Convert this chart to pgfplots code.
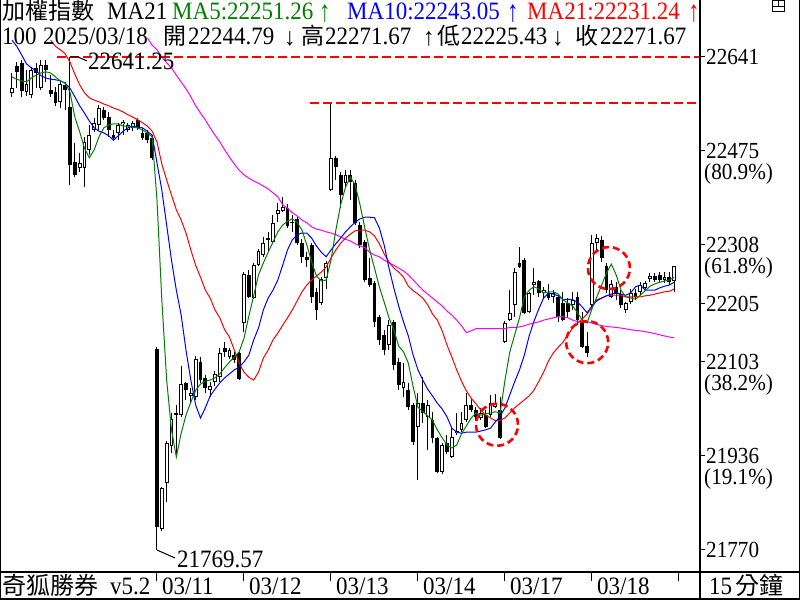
\documentclass[border=0pt]{standalone}
\usepackage{pgfplots}
\pgfplotsset{compat=1.18}
\usepackage{pgfplotstable}
\usepackage{graphicx}
\usepackage{fontspec}
\setmainfont{Liberation Serif}[FakeStretch=0.92]
\newfontfamily\cjk{Noto Sans CJK TC}
\definecolor{mgreen}{RGB}{0,128,0}
\definecolor{mblue}{RGB}{0,0,255}
\definecolor{mred}{RGB}{255,0,0}
\definecolor{mmag}{RGB}{255,0,255}
\newcommand{\upar}{\raisebox{-2bp}{\scalebox{1}[1.2]{↑}}}
\newcommand{\uparb}{\raisebox{-1bp}{↑}}
\newcommand{\dnar}{\raisebox{-1bp}{↓}}

\pgfplotstableread{
i O H L C
-30 22578 22613 22571 22586
-27 22579 22618 22572 22593
-26 22574 22624 22569 22618
-24 22586 22636 22583 22627
-20 22562 22601 22551 22593
-16 22445 22472 22438 22454
-15 22445 22500 22411 22491
-14 22477 22521 22468 22503
-13 22512 22533 22509 22525
-12 22521 22556 22512 22551
-8 22507 22525 22494 22521
-7 22523 22530 22503 22526
-6 22512 22525 22509 22521
-5 22516 22528 22510 22525
1 21807 21881 21803 21879
2 21888 21962 21854 21959
3 21953 22012 21941 22001
5 22008 22095 22005 22063
7 22042 22056 22031 22047
8 22040 22113 22035 22107
11 22052 22067 22040 22060
12 22067 22086 22060 22081
13 22075 22127 22067 22118
15 22111 22127 22107 22123
18 22171 22261 22155 22258
20 22215 22277 22213 22273
21 22273 22302 22272 22298
22 22291 22323 22288 22312
24 22314 22362 22312 22348
25 22364 22383 22349 22371
26 22369 22394 22367 22376
34 22206 22252 22203 22249
35 22250 22281 22231 22277
36 22406 22560 22404 22463
39 22418 22441 22410 22433
48 22132 22176 22123 22167
51 22056 22100 22040 22067
54 21987 22047 21893 22029
56 22005 22035 21946 22026
59 21907 21959 21904 21955
61 21934 21987 21932 21969
62 21976 22012 21973 21980
63 21982 22014 21978 21994
64 21999 22047 21996 22026
67 22003 22021 21999 22012
69 22008 22044 22005 22029
70 22022 22045 22021 22029
72 22137 22174 22135 22171
73 22176 22229 22174 22189
74 22203 22268 22182 22261
77 22190 22226 22189 22224
78 22238 22268 22220 22243
80 22224 22235 22215 22229
82 22217 22229 22206 22224
86 22203 22226 22194 22212
90 22203 22327 22197 22312
91 22312 22328 22300 22321
94 22217 22247 22215 22240
97 22194 22208 22189 22206
98 22208 22231 22205 22224
100 22226 22243 22220 22238
101 22233 22245 22229 22242
102 22249 22259 22243 22254
105 22247 22261 22242 22252
107 22244.79 22271.67 22225.43 22271.67
}\up

\pgfplotstableread{
i O H L C
-29 22625 22632 22586 22615
-28 22631 22636 22571 22581
-25 22622 22631 22586 22613
-23 22627 22636 22597 22618
-22 22583 22609 22571 22576
-21 22579 22588 22555 22560
-19 22592 22597 22548 22583
-18 22553 22641.25 22415 22450
-17 22456 22489 22429 22433
-11 22548 22553 22530 22533
-10 22535 22544 22500 22512
-9 22503 22512 22494 22498
-4 22530 22533 22512 22516
-3 22507 22516 22494 22498
-2 22507 22512 22489 22494
-1 22498 22503 22459 22463
0 22125 22129 21769.57 21810
4 22012 22026 21934 22008
6 22065 22067 22035 22052
9 22102 22111 22065 22070
10 22074 22079 22047 22056
14 22127 22137 22111 22120
16 22114 22120 22100 22105
17 22118 22120 22070 22072
19 22256 22265 22215 22217
23 22321 22332 22296 22318
27 22374 22381 22339 22342
28 22349 22362 22332 22348
29 22355 22358 22309 22312
30 22312 22319 22277 22288
31 22288 22296 22270 22282
32 22309 22312 22206 22217
33 22226 22233 22176 22194
37 22463 22466 22424 22447
38 22433 22438 22374 22397
40 22433 22441 22388 22420
41 22418 22424 22344 22348
42 22344 22349 22304 22309
43 22314 22318 22243 22247
44 22250 22286 22235 22238
45 22242 22245 22164 22173
46 22182 22185 22132 22141
47 22150 22159 22114 22123
49 22173 22176 22088 22097
50 22102 22109 22052 22061
52 22052 22065 22017 22022
53 22026 22029 21955 21961
55 22029 22075 21994 22012
57 21999 22014 21959 21968
58 21968 21969 21906 21907
60 21959 21973 21939 21943
65 22026 22038 22014 22017
66 22017 22022 21999 22005
68 22008 22017 21985 21987
71 22017 22040 21966 21968
75 22277 22305 22268 22270
76 22282 22286 22187 22189
79 22245 22247 22217 22224
81 22224 22240 22212 22215
83 22217 22220 22173 22182
84 22206 22226 22174 22176
85 22206 22215 22180 22190
87 22217 22226 22167 22176
88 22173 22190 22127 22129
89 22130 22155 22111 22118
92 22318 22325 22279 22286
93 22272 22277 22224 22229
95 22235 22243 22212 22222
96 22222 22229 22197 22203
99 22224 22231 22212 22217
103 22254 22259 22243 22247
104 22256 22261 22243 22247
106 22252 22261 22238 22243
}\down

\pgfplotstableread{
i v
-30 22606
-29 22602
-28 22599
-27 22597
-26 22604
-25 22609
-24 22613
-23 22615
-22 22613
-21 22606
-20 22599
-19 22595
-18 22579
-17 22535
-16 22509
-15 22480
-14 22463
-13 22477
-12 22500
-11 22516
-10 22521
-9 22523
-8 22523
-7 22519
-6 22519
-5 22517
-4 22516
-3 22512
-2 22507
-1 22500
0 22388
1 22212
2 22070
3 21982
4 21934
5 21976
6 22008
7 22031
8 22052
9 22063
10 22068
11 22070
12 22074
13 22081
14 22092
15 22102
16 22111
17 22120
18 22144
19 22183
20 22219
21 22256
22 22277
23 22296
24 22314
25 22332
26 22344
27 22351
28 22355
29 22349
30 22335
31 22309
32 22279
33 22254
34 22245
35 22247
36 22282
37 22335
38 22380
39 22411
40 22429
41 22415
42 22380
43 22339
44 22300
45 22268
46 22235
47 22208
48 22180
49 22159
50 22130
51 22120
52 22100
53 22058
54 22022
55 22014
56 22007
57 21999
58 21982
59 21968
60 21955
61 21950
62 21955
63 21975
64 21989
65 22003
66 22012
67 22008
68 22010
69 22012
70 22014
71 22012
72 22070
73 22120
74 22150
75 22180
76 22217
77 22229
78 22235
79 22231
80 22224
81 22226
82 22226
83 22222
84 22212
85 22206
86 22201
87 22189
88 22176
89 22171
90 22196
91 22217
92 22238
93 22259
94 22275
95 22256
96 22229
97 22217
98 22215
99 22213
100 22220
101 22228
102 22236
103 22240
104 22243
105 22245
106 22247
107 22251.26
}\mafive

\pgfplotstableread{
i v
-30 22671
-29 22660
-28 22645
-27 22629
-26 22622
-25 22617
-24 22608
-23 22604
-22 22602
-21 22601
-20 22599
-19 22595
-18 22586
-17 22571
-16 22555
-15 22542
-14 22528
-13 22516
-12 22510
-11 22507
-10 22502
-9 22494
-8 22502
-7 22510
-6 22516
-5 22519
-4 22517
-3 22516
-2 22510
-1 22503
0 22454
1 22406
2 22344
3 22282
4 22229
5 22185
6 22123
7 22070
8 22026
9 22003
10 22021
11 22042
12 22054
13 22065
14 22074
15 22081
16 22088
17 22093
18 22102
19 22114
20 22141
21 22162
22 22194
23 22215
24 22229
25 22247
26 22273
27 22300
28 22318
29 22327
30 22330
31 22330
32 22321
33 22307
34 22296
35 22288
36 22300
37 22311
38 22321
39 22332
40 22341
41 22349
42 22355
43 22358
44 22358
45 22357
46 22339
47 22309
48 22268
49 22233
50 22201
51 22173
52 22148
53 22114
54 22088
55 22070
56 22054
57 22042
58 22029
59 22019
60 22005
61 21985
62 21978
63 21976
64 21978
65 21978
66 21978
67 21980
68 21982
69 21985
70 21996
71 22006
72 22021
73 22044
74 22067
75 22088
76 22114
77 22148
78 22174
79 22196
80 22215
81 22224
82 22222
83 22219
84 22212
85 22213
86 22212
87 22208
88 22199
89 22189
90 22201
91 22210
92 22215
93 22219
94 22222
95 22224
96 22222
97 22220
98 22224
99 22235
100 22238
101 22229
102 22229
103 22229
104 22233
105 22236
106 22238
107 22243.05
}\maten

\pgfplotstableread{
i v
-22 22671
-21 22660
-20 22654
-19 22647
-18 22632
-17 22611
-16 22592
-15 22578
-14 22569
-13 22565
-12 22562
-11 22558
-10 22555
-9 22551
-8 22548
-7 22544
-6 22539
-5 22535
-4 22530
-3 22525
-2 22519
-1 22510
0 22491
1 22452
2 22424
3 22397
4 22371
5 22353
6 22330
7 22300
8 22273
9 22252
10 22229
11 22215
12 22194
13 22180
14 22159
15 22146
16 22123
17 22100
18 22084
19 22075
20 22070
21 22084
22 22109
23 22123
24 22141
25 22153
26 22167
27 22180
28 22194
29 22210
30 22226
31 22238
32 22247
33 22254
34 22261
35 22270
36 22286
37 22300
38 22312
39 22321
40 22328
41 22334
42 22335
43 22335
44 22332
45 22325
46 22311
47 22293
48 22279
49 22268
50 22261
51 22252
52 22236
53 22228
54 22222
55 22215
56 22203
57 22187
58 22176
59 22157
60 22132
61 22111
62 22088
63 22068
64 22051
65 22038
66 22028
67 22017
68 22008
69 22003
70 21998
71 21999
72 22003
73 22012
74 22021
75 22028
76 22035
77 22042
78 22052
79 22068
80 22084
81 22104
82 22118
83 22128
84 22137
85 22150
86 22162
87 22171
88 22178
89 22187
90 22199
91 22212
92 22215
93 22219
94 22220
95 22220
96 22220
97 22217
98 22217
99 22217
100 22217
101 22219
102 22220
103 22222
104 22224
105 22226
106 22227
107 22231.24
}\matwo

\pgfplotstableread{
i v
-2 22675
-1 22662
0 22654
1 22641
2 22631
3 22622
4 22609
5 22597
6 22585
7 22571
8 22555
9 22542
10 22530
11 22516
12 22503
13 22491
14 22477
15 22464
16 22452
17 22441
18 22433
19 22427
20 22422
21 22418
22 22413
23 22408
24 22401
25 22394
26 22380
27 22374
28 22366
29 22360
30 22353
31 22348
32 22341
33 22337
34 22335
35 22332
36 22330
37 22327
38 22323
39 22319
40 22316
41 22311
42 22307
43 22304
44 22296
45 22291
46 22288
47 22282
48 22277
49 22273
50 22268
51 22263
52 22256
53 22247
54 22238
55 22229
56 22222
57 22215
58 22208
59 22201
60 22192
61 22185
62 22176
63 22166
64 22154
65 22157
66 22161
71 22161
72 22161
73 22163
74 22163
75 22164
76 22166
77 22169
78 22171
79 22173
80 22176
81 22178
82 22180
83 22182
84 22182
85 22180
86 22176
87 22173
88 22173
89 22173
90 22171
92 22166
94 22164
96 22162
98 22159
100 22157
102 22154
104 22150
106 22146
107 22145
}\malong

\begin{document}
\begin{tikzpicture}[x=1bp,y=1bp]
\useasboundingbox (0,0) rectangle (800,600);
\fill[white] (0,0) rectangle (800,600);
\begin{axis}[
  at={(0bp,28bp)}, anchor=south west,
  scale only axis, width=700bp, height=572bp,
  xmin=-32.48, xmax=112.35, ymin=21730.7, ymax=22742,
  hide axis, clip bounding box=upper bound,
]
% wicks
\addplot[black, line width=1bp, quiver={u=0, v=\thisrow{H}-\thisrow{L}, every arrow/.append style={line width=1bp}}] table[x=i, y=L] {\up};
\addplot[black, line width=1bp, quiver={u=0, v=\thisrow{H}-\thisrow{L}, every arrow/.append style={line width=1bp}}] table[x=i, y=L] {\down};
% bodies
\addplot[black, line width=3.8bp, quiver={u=0, v=\thisrow{C}-\thisrow{O}, every arrow/.append style={line width=3.8bp}}] table[x=i, y=O] {\down};
\addplot[black, line width=3.8bp, quiver={u=0, v=\thisrow{C}-\thisrow{O}, every arrow/.append style={line width=3.8bp}}] table[x=i, y=O] {\up};
\addplot[white, line width=1.8bp, quiver={u=0, v=\thisrow{C}-\thisrow{O}, every arrow/.append style={line width=1.8bp, shorten <=1bp, shorten >=1bp}}] table[x=i, y=O] {\up};
% moving averages
\addplot[mmag, line width=1bp] table[x=i, y=v] {\malong};
\addplot[mred, line width=1bp] table[x=i, y=v] {\matwo};
\addplot[mblue, line width=1bp] table[x=i, y=v] {\maten};
\addplot[mgreen, line width=1bp] table[x=i, y=v] {\mafive};
% dashed high lines
\addplot[mred, line width=2bp, dash pattern=on 9bp off 4bp] coordinates {(-20.7,22641.25) (112.35,22641.25)};
\addplot[mred, line width=2bp, dash pattern=on 9bp off 4bp] coordinates {(31.7,22560) (112.35,22560)};
% circles
\draw[mred, line width=2.6bp, dash pattern=on 7bp off 4bp] (axis cs:70.35,21991) circle[radius=21bp];
\draw[mred, line width=2.6bp, dash pattern=on 7bp off 4bp] (axis cs:93.5,22268) circle[radius=21bp];
\draw[mred, line width=2.6bp, dash pattern=on 7bp off 4bp] (axis cs:89,22137) circle[radius=21bp];
% extreme labels
\coordinate (hi) at (axis cs:-18,22641.25);
\coordinate (lo) at (axis cs:0,21769.57);
\end{axis}
\draw[black, line width=1bp] (hi) -- ([xshift=8bp]hi) -- ([xshift=17bp,yshift=-4bp]hi);
\node[anchor=west, inner sep=0, font=\fontsize{25bp}{28bp}\selectfont] at ([xshift=18bp, yshift=-4bp]hi) {22641.25};
\draw[black, line width=1bp] (lo) -- ([xshift=18bp,yshift=-8bp]lo);
\node[anchor=west, inner sep=0, font=\fontsize{25bp}{28bp}\selectfont] at ([xshift=20bp, yshift=-9bp]lo) {21769.57};
% frame
\draw[line width=1.5bp] (0.75,0) -- (0.75,600);
\draw[line width=1.5bp] (799.25,0) -- (799.25,600);
\draw[line width=1.5bp] (0,0.75) -- (800,0.75);
\draw[line width=1.5bp] (700,0) -- (700,600);
\draw[line width=1.5bp] (0,28) -- (800,28);
% icon
\draw[line width=1bp] (772,588) rectangle (784,599);
\draw[line width=1bp] (772,593.5) -- (784,593.5);
\draw[line width=1bp] (778,593.5) -- (778,599);
% header
\begin{scope}[every node/.style={anchor=base west, inner sep=0, font=\fontsize{25bp}{28bp}\selectfont}]
\node at (2,580) {\cjk\fontsize{23bp}{26bp}\selectfont 加權指數};
\node at (107,580) {MA21};
\node[text=mgreen] at (172,580) {MA5:22251.26};
\node[text=mgreen] at (319,580) {\upar};
\node[text=mblue] at (347,580) {MA10:22243.05};
\node[text=mblue] at (507,580) {\upar};
\node[text=mred] at (527,580) {MA21:22231.24};
\node[text=mred] at (688,580) {\upar};
\node at (2,555) {100};
\node at (43,555) {2025/03/18};
\node at (163,555) {\cjk\fontsize{23bp}{26bp}\selectfont 開};
\node at (188,555) {22244.79};
\node at (284,555) {\dnar};
\node at (301,555) {\cjk\fontsize{23bp}{26bp}\selectfont 高};
\node at (325,555) {22271.67};
\node at (423,555) {\uparb};
\node at (437,555) {\cjk\fontsize{23bp}{26bp}\selectfont 低};
\node at (461,555) {22225.43};
\node at (552,555) {\dnar};
\node at (575,555) {\cjk\fontsize{23bp}{26bp}\selectfont 收};
\node at (600,555) {22271.67};
% bottom strip
\node at (2,5) {\cjk\fontsize{24bp}{28bp}\selectfont 奇狐勝券};
\node at (110,5) {v5.2};
\node at (162,5) {03/11};
\node at (249,5) {03/12};
\node at (336,5) {03/13};
\node at (423,5) {03/14};
\node at (510,5) {03/17};
\node at (597,5) {03/18};
\node at (709,5) {15};
\node at (735,5) {\cjk\fontsize{24bp}{28bp}\selectfont 分鐘};
\end{scope}
\foreach \x in {156,243,330,417,504,591,678} \draw[line width=1bp] (\x,28) -- (\x,19);
% right scale
\begin{scope}[every node/.style={anchor=west, inner sep=0, font=\fontsize{23bp}{25bp}\selectfont}]
\foreach \yy/\t in {543/22641, 449/22475, 355/22308, 296/22205, 238/22103, 144/21936, 50/21770} {
  \draw[line width=1bp] (700,\yy) -- (705,\yy);
  \node at (706,\yy) {\t};
}
\node at (704,426) {(80.9\%)};
\node at (704,332) {(61.8\%)};
\node at (704,215) {(38.2\%)};
\node at (704,121) {(19.1\%)};
\end{scope}
\end{tikzpicture}
\end{document}
